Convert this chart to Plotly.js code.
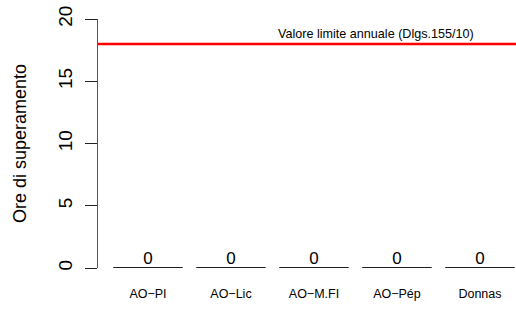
<!DOCTYPE html>
<html>
<head>
<meta charset="utf-8">
<script src="https://cdn.plot.ly/plotly-3.0.1.min.js"></script>
<style>html,body{margin:0;padding:0;background:#fff}#chart{width:516px;height:312px}</style>
</head>
<body>
<div id="chart"></div>
<script>
const stations = ['AO\u2212PI', 'AO\u2212Lic', 'AO\u2212M.FI', 'AO\u2212P\u00e9p', 'Donnas'];
const hours = [0, 0, 0, 0, 0];
const limitValue = 18;
const limitLabel = 'Valore limite annuale (Dlgs.155/10)';
const yTicks = [0, 5, 10, 15, 20];
const yTitle = 'Ore di superamento';

const FONT = 'Liberation Sans, Arial, Helvetica, sans-serif';
const idx = stations.map((_, i) => i);
const barW = 1 / 1.2;

// bar outlines (so zero-height bars still show as a line)
const ox = [], oy = [];
hours.forEach((v, i) => {
  ox.push(i - barW / 2, i - barW / 2, i + barW / 2, i + barW / 2, null);
  oy.push(0, v, v, 0, null);
});

const traces = [
  {type: 'bar', x: idx, y: hours, width: barW, marker: {color: 'rgba(0,0,0,0)', line: {color: '#000', width: 1}}, hoverinfo: 'skip'},
  {type: 'scatter', mode: 'lines', x: ox, y: oy, line: {color: '#000', width: 1}, cliponaxis: false, hoverinfo: 'skip'},
  {type: 'scatter', mode: 'text', x: idx, y: hours, text: hours.map(String), textposition: 'top center',
   textfont: {family: FONT, size: 17, color: '#000'}, cliponaxis: false, hoverinfo: 'skip'}
];

const layout = {
  width: 516, height: 312,
  margin: {l: 98, r: 0, t: 19, b: 44},
  paper_bgcolor: '#fff', plot_bgcolor: '#fff',
  showlegend: false,
  font: {family: FONT, color: '#000'},
  xaxis: {
    range: [-0.602, 4.434], tickvals: idx, ticktext: stations, ticks: '',
    showline: false, showgrid: false, zeroline: false,
    tickfont: {family: FONT, size: 12.5, color: '#000'}, ticklabelstandoff: 16
  },
  yaxis: {
    range: [0, 20], tickvals: yTicks, ticktext: yTicks.map(String),
    ticks: 'outside', ticklen: 12, tickwidth: 1, tickcolor: '#222',
    showline: true, linecolor: '#555', linewidth: 1.2,
    showgrid: false, zeroline: false, tickangle: -90,
    tickfont: {family: FONT, size: 19, color: '#000'}, ticklabelstandoff: 5,
    title: {text: yTitle, font: {family: FONT, size: 18, color: '#000'}, standoff: 24}
  },
  shapes: [{type: 'line', xref: 'paper', x0: 0, x1: 1, yref: 'y', y0: limitValue, y1: limitValue,
            line: {color: '#ff0000', width: 2.5}}],
  annotations: [{text: limitLabel, xref: 'x', x: 2.75, yref: 'y', y: limitValue, yanchor: 'bottom',
                 showarrow: false, font: {family: FONT, size: 12.6, color: '#000'}, yshift: 1}]
};

Plotly.newPlot('chart', traces, layout, {staticPlot: true, displayModeBar: false});
</script>
</body>
</html>
